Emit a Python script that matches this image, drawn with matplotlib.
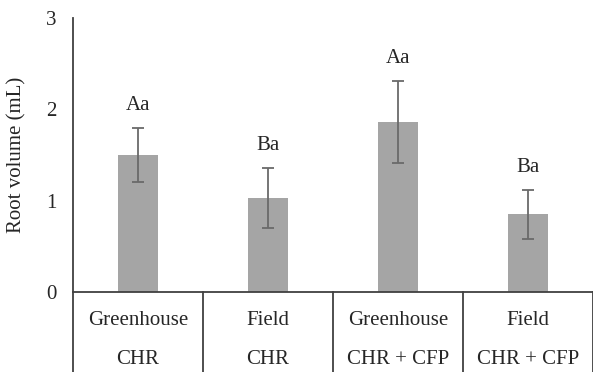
import matplotlib.pyplot as plt
import matplotlib.transforms as mtransforms

sites = ['Greenhouse', 'Field', 'Greenhouse', 'Field']
treatments = ['CHR', 'CHR', 'CHR + CFP', 'CHR + CFP']
root_volume = [1.50, 1.03, 1.86, 0.85]
errors = [0.30, 0.33, 0.45, 0.27]
letters = ['Aa', 'Ba', 'Aa', 'Ba']

plt.rcParams['font.family'] = ['Liberation Serif', 'DejaVu Serif']
txt_color = '#262626'

fig = plt.figure(figsize=(5.93, 3.72), dpi=100)
ax = fig.add_axes([0.123, 0.215, 0.877, 0.737])

x = list(range(len(root_volume)))
ax.bar(x, root_volume, width=0.31, color='#a5a5a5', zorder=2)
ax.errorbar(x, root_volume, yerr=errors, fmt='none', ecolor='#6a6a6a',
            elinewidth=1.3, capsize=4, capthick=1.3, zorder=3)

for xi, v, e, lab in zip(x, root_volume, errors, letters):
    ax.annotate(lab, (xi, v + e), xytext=(0, 16), textcoords='offset points',
                ha='center', va='center', fontsize=15, color=txt_color)

ax.set_xlim(-0.5, len(x) - 0.5)
ax.set_ylim(0, 3)
ax.set_yticks([0, 1, 2, 3])
ax.tick_params(axis='y', length=0, labelsize=15, pad=12, labelcolor=txt_color)
ax.set_xticks([])
ax.set_ylabel('Root volume (mL)', fontsize=15, color=txt_color, labelpad=14)

for s in ['top', 'right']:
    ax.spines[s].set_visible(False)
for s in ['left', 'bottom']:
    ax.spines[s].set_color('#404040')
    ax.spines[s].set_linewidth(1.3)

# two-level category labels below the axis
trans = mtransforms.blended_transform_factory(ax.transData, ax.transAxes)
for sep in [i - 0.5 for i in range(len(x) + 1)]:
    ax.plot([sep, sep], [0, -0.29], transform=trans, color='#404040',
            lw=1.3, clip_on=False)
for xi, site, trt in zip(x, sites, treatments):
    ax.text(xi, -0.105, site, transform=trans, ha='center', va='center',
            fontsize=15, color=txt_color)
    ax.text(xi, -0.245, trt, transform=trans, ha='center', va='center',
            fontsize=15, color=txt_color)

fig.savefig('out.png', dpi=100)
